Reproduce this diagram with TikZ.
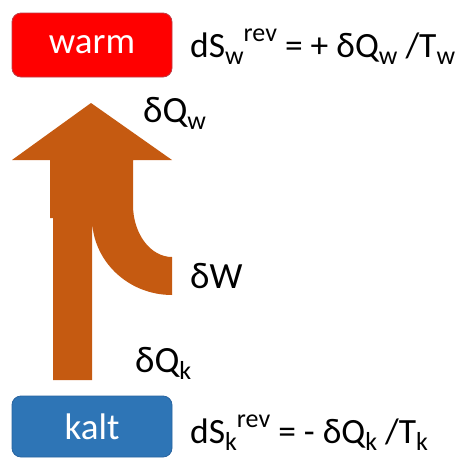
\documentclass[tikz,border=0pt]{standalone}
\usepackage{fontspec}
\setmainfont{Carlito}
\usetikzlibrary{positioning}
\definecolor{warmred}{RGB}{255,0,0}
\definecolor{warmedge}{RGB}{190,60,70}
\definecolor{kaltblue}{RGB}{46,117,182}
\definecolor{kaltedge}{RGB}{40,100,160}
\definecolor{heatorange}{RGB}{197,90,17}
\newcommand{\lo}[1]{\raisebox{-0.2em}{\fontsize{26}{26}\selectfont #1}}
\newcommand{\hi}[1]{\raisebox{0.45em}{\fontsize{26}{26}\selectfont #1}}

\begin{document}
\begin{tikzpicture}[
        x=1pt, y=-1pt,
        font=\fontsize{37}{40}\selectfont,
        box/.style={rounded corners=9pt, minimum width=160pt, text=white, inner sep=0pt, line width=0.8pt},
        formel/.style={anchor=base west, inner sep=0pt, font=\fontsize{35.5}{40}\selectfont},
        lbl/.style={anchor=base west, inner sep=0pt}
    ]
        \useasboundingbox (0,0) rectangle (458,459);

        % --- Reservoire ---
        \node[box, fill=warmred, draw=warmedge, minimum height=64pt] (warm) at (92,45) {warm};
        \node[box, fill=kaltblue, draw=kaltedge, minimum height=61pt] (kalt) at (92,426.5) {kalt};

        % --- Entropieänderungen ---
        \node[formel] (dsw) at (190,57) {dS\lo{w}\hi{rev} = + δQ\lo{w} /T\lo{w}};
        \node[formel] (dsk) at (190,443) {dS\lo{k}\hi{rev} = - δQ\lo{k} /T\lo{k}};

        % --- Wärmepfeil mit Arbeitszufuhr ---
        \fill[heatorange] (91,103) -- (172,160) -- (133,160) -- (133,205)
            .. controls (133,233.7) and (150.5,257) .. (172,257) -- (172,295)
            .. controls (127.8,295) and (92,260.5) .. (92,218) -- (92,380)
            -- (53,380) -- (53,218) -- (50,218) -- (50,160) -- (12,160) -- cycle;

        \node[lbl] (qw) at (143,122) {δQ\lo{w}};
        \node[lbl] (w) at (190,288) {δW};
        \node[lbl] (qk) at (135,372) {δQ\lo{k}};
    \end{tikzpicture}
\end{document}
